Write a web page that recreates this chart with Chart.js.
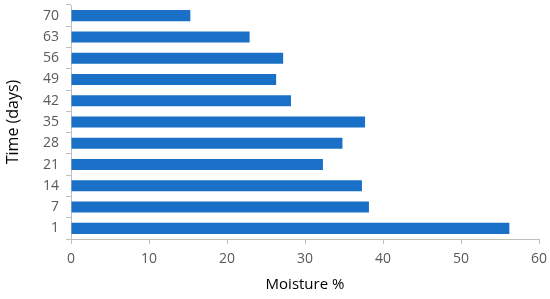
<!DOCTYPE html>
<html>
<head>
<meta charset="utf-8">
<script src="https://cdn.jsdelivr.net/npm/chart.js@4"></script>
<style>
  html, body { margin: 0; padding: 0; background: #fff; }
  #wrap { width: 550px; height: 299px; }
</style>
</head>
<body>
<div id="wrap"><canvas id="moistureChart"></canvas></div>
<script>
const days = ['1', '7', '14', '21', '28', '35', '42', '49', '56', '63', '70'];
const moisture = [56.2, 38.2, 37.3, 32.3, 34.8, 37.7, 28.2, 26.3, 27.2, 22.9, 15.3];
const xTicks = [0, 10, 20, 30, 40, 50, 60];

const axisGray = '#bfbfbf';
const labelGray = '#595959';
const font = 'Open Sans';

const ctx = document.getElementById('moistureChart').getContext('2d');
new Chart(ctx, {
    type: 'bar',
    data: {
        labels: days,
        datasets: [{
            data: moisture,
            backgroundColor: '#1a70c6',
            borderWidth: 0,
            categoryPercentage: 1,
            barPercentage: 0.52
        }]
    },
    options: {
        indexAxis: 'y',
        responsive: true,
        maintainAspectRatio: false,
        animation: false,
        layout: { padding: { top: 5, right: 11, left: 0, bottom: 0 } },
        plugins: { legend: { display: false }, tooltip: { enabled: false } },
        scales: {
            x: {
                min: xTicks[0],
                max: xTicks[xTicks.length - 1],
                afterBuildTicks: axis => { axis.ticks = xTicks.map(v => ({ value: v })); },
                border: { color: axisGray, width: 1 },
                grid: { drawOnChartArea: false, drawTicks: true, tickLength: 5, color: axisGray },
                ticks: { color: labelGray, font: { family: font, size: 14 }, padding: 7 },
                title: { display: true, text: 'Moisture %', color: '#000', font: { family: font, size: 15 }, padding: { top: 2, bottom: 5 } },
                afterFit: axis => { axis.height = 60; axis.paddingRight = 0; axis.paddingLeft = 0; }
            },
            y: {
                reverse: true,
                border: { color: axisGray, width: 1 },
                grid: { drawOnChartArea: false, drawTicks: true, tickLength: 5, color: axisGray, offset: true },
                ticks: { color: labelGray, font: { family: font, size: 14 }, padding: 7 },
                title: { display: true, text: 'Time (days)', color: '#000', font: { family: font, size: 16 }, padding: { top: 4, bottom: 10 } },
                afterFit: axis => { axis.width = 71; axis.paddingTop = 0; axis.paddingBottom = 0; }
            }
        }
    }
});
</script>
</body>
</html>
